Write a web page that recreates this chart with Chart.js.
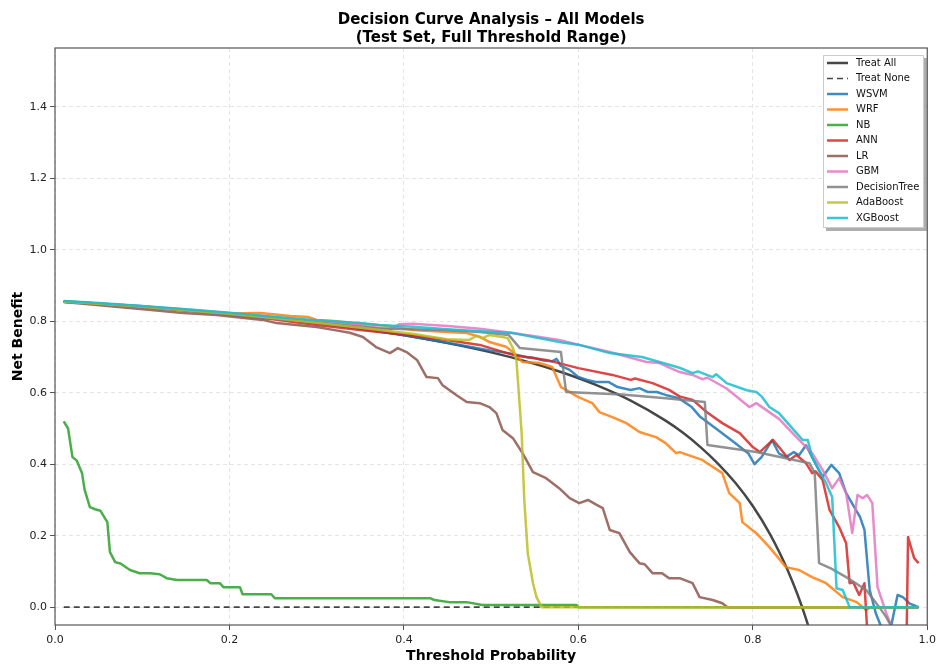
<!DOCTYPE html>
<html>
<head>
<meta charset="utf-8">
<script src="https://cdn.jsdelivr.net/npm/chart.js@4.4.1/dist/chart.umd.min.js"></script>
<style>
  html, body { margin: 0; padding: 0; background: #fff; }
</style>
</head>
<body>
<canvas id="dca" width="940" height="668"></canvas>
<script>
// ---------------------------- Données ----------------------------
const xTicks = [0.0, 0.2, 0.4, 0.6, 0.8, 1.0];
const yTicks = [0.0, 0.2, 0.4, 0.6, 0.8, 1.0, 1.2, 1.4];

const treatAll = [[0.01,0.855],[0.05,0.849],[0.10,0.841],[0.15,0.831],[0.20,0.821],[0.25,0.809],[0.30,0.795],[0.35,0.779],
  [0.40,0.761],[0.45,0.739],[0.50,0.713],[0.54,0.688],[0.58,0.658],[0.62,0.622],[0.66,0.578],[0.70,0.522],[0.72,0.488],
  [0.74,0.448],[0.76,0.402],[0.78,0.348],[0.80,0.283],[0.82,0.203],[0.84,0.103],[0.86,-0.025],[0.88,-0.196],[0.90,-0.435]];
const treatNone = [[0.01,0],[0.99,0]];

const wsvm = [[0.01,0.856],[0.05,0.850],[0.10,0.842],[0.15,0.832],[0.20,0.822],[0.25,0.810],[0.30,0.797],[0.35,0.782],
  [0.40,0.762],[0.45,0.740],[0.48,0.727],[0.50,0.718],[0.52,0.711],[0.54,0.700],[0.55,0.697],[0.56,0.690],[0.57,0.688],
  [0.575,0.695],[0.58,0.675],[0.59,0.664],[0.60,0.644],[0.61,0.636],[0.62,0.630],[0.635,0.630],[0.645,0.616],[0.66,0.608],
  [0.67,0.613],[0.68,0.602],[0.69,0.602],[0.70,0.594],[0.715,0.585],[0.73,0.560],[0.74,0.532],[0.76,0.496],[0.78,0.459],
  [0.795,0.430],[0.802,0.400],[0.81,0.420],[0.822,0.467],[0.83,0.430],[0.838,0.420],[0.847,0.434],[0.853,0.425],
  [0.861,0.453],[0.868,0.420],[0.88,0.364],[0.89,0.398],[0.899,0.375],[0.907,0.319],[0.923,0.252],[0.928,0.216],
  [0.934,0.048],[0.941,-0.017],[0.948,-0.06],[0.958,-0.06],[0.966,0.034],[0.972,0.028],[0.98,0.010],[0.99,0.0]];

const wrf = [[0.01,0.855],[0.05,0.849],[0.10,0.841],[0.15,0.832],[0.20,0.822],[0.235,0.823],[0.27,0.815],[0.29,0.812],
  [0.30,0.804],[0.32,0.801],[0.34,0.795],[0.376,0.788],[0.41,0.776],[0.45,0.770],[0.472,0.767],[0.487,0.757],[0.498,0.742],
  [0.517,0.729],[0.525,0.714],[0.536,0.686],[0.556,0.683],[0.57,0.672],[0.58,0.616],[0.586,0.608],[0.60,0.588],
  [0.616,0.571],[0.624,0.546],[0.639,0.532],[0.655,0.515],[0.67,0.490],[0.689,0.476],[0.70,0.459],[0.712,0.431],
  [0.716,0.434],[0.742,0.412],[0.765,0.375],[0.773,0.319],[0.785,0.291],[0.788,0.238],[0.804,0.207],[0.819,0.168],
  [0.838,0.112],[0.853,0.104],[0.868,0.084],[0.884,0.067],[0.903,0.028],[0.919,0.014],[0.93,-0.008],[0.935,0.0],[0.99,0.0]];

const nb = [[0.01,0.52],[0.015,0.50],[0.02,0.42],[0.025,0.41],[0.031,0.375],[0.034,0.328],[0.04,0.28],[0.046,0.274],
  [0.052,0.27],[0.06,0.238],[0.063,0.154],[0.069,0.126],[0.075,0.122],[0.086,0.104],[0.097,0.095],[0.109,0.095],
  [0.12,0.092],[0.128,0.081],[0.14,0.076],[0.174,0.076],[0.178,0.067],[0.189,0.067],[0.193,0.056],[0.212,0.056],
  [0.215,0.036],[0.248,0.036],[0.252,0.025],[0.43,0.025],[0.435,0.02],[0.452,0.014],[0.472,0.014],[0.49,0.006],
  [0.598,0.006],[0.60,0.0],[0.99,0.0]];

const ann = [[0.01,0.855],[0.05,0.849],[0.10,0.840],[0.15,0.830],[0.20,0.819],[0.25,0.806],[0.30,0.790],[0.35,0.776],
  [0.372,0.770],[0.41,0.760],[0.449,0.748],[0.487,0.734],[0.525,0.706],[0.563,0.692],[0.60,0.669],[0.639,0.650],
  [0.66,0.636],[0.665,0.640],[0.685,0.627],[0.704,0.608],[0.716,0.590],[0.731,0.580],[0.747,0.546],[0.765,0.515],
  [0.785,0.487],[0.80,0.448],[0.808,0.434],[0.823,0.468],[0.83,0.448],[0.842,0.412],[0.85,0.426],[0.861,0.403],
  [0.868,0.375],[0.872,0.380],[0.88,0.356],[0.888,0.272],[0.899,0.224],[0.907,0.179],[0.911,0.067],[0.915,0.070],
  [0.922,0.034],[0.928,0.067],[0.932,-0.10],[0.94,-0.30],[0.975,-0.30],[0.978,0.196],[0.985,0.137],[0.99,0.123]];

const lr = [[0.01,0.854],[0.048,0.846],[0.101,0.834],[0.147,0.823],[0.185,0.818],[0.238,0.804],[0.254,0.795],[0.30,0.784],
  [0.319,0.776],[0.338,0.768],[0.353,0.756],[0.368,0.728],[0.384,0.711],[0.393,0.725],[0.403,0.714],[0.415,0.692],
  [0.426,0.644],[0.439,0.641],[0.444,0.622],[0.46,0.594],[0.472,0.574],[0.487,0.571],[0.498,0.560],[0.506,0.543],
  [0.513,0.496],[0.525,0.473],[0.536,0.431],[0.548,0.378],[0.563,0.361],[0.578,0.333],[0.59,0.305],[0.601,0.291],
  [0.611,0.300],[0.621,0.286],[0.628,0.277],[0.636,0.216],[0.647,0.207],[0.659,0.154],[0.67,0.123],[0.676,0.120],
  [0.685,0.095],[0.696,0.095],[0.704,0.081],[0.716,0.081],[0.731,0.067],[0.739,0.028],[0.754,0.020],[0.765,0.011],
  [0.771,0.0],[0.99,0.0]];

const gbm = [[0.01,0.856],[0.05,0.850],[0.10,0.842],[0.15,0.833],[0.20,0.823],[0.25,0.812],[0.30,0.800],[0.35,0.788],
  [0.385,0.778],[0.395,0.792],[0.41,0.793],[0.45,0.787],[0.487,0.779],[0.525,0.767],[0.578,0.748],[0.601,0.734],
  [0.636,0.714],[0.678,0.686],[0.693,0.683],[0.716,0.658],[0.731,0.650],[0.742,0.638],[0.748,0.642],[0.77,0.612],
  [0.796,0.560],[0.804,0.571],[0.83,0.527],[0.853,0.468],[0.868,0.431],[0.88,0.384],[0.891,0.333],[0.899,0.361],
  [0.907,0.319],[0.914,0.207],[0.92,0.314],[0.926,0.305],[0.931,0.314],[0.937,0.291],[0.943,0.056],[0.953,-0.017],
  [0.96,-0.06],[0.97,-0.10],[0.99,-0.10]];

const decisionTree = [[0.01,0.855],[0.05,0.849],[0.10,0.840],[0.15,0.830],[0.20,0.820],[0.25,0.808],[0.30,0.797],
  [0.35,0.785],[0.372,0.780],[0.41,0.778],[0.45,0.775],[0.487,0.770],[0.52,0.762],[0.533,0.725],[0.58,0.714],
  [0.586,0.602],[0.65,0.595],[0.70,0.585],[0.745,0.574],[0.748,0.454],[0.804,0.434],[0.865,0.403],[0.871,0.375],
  [0.876,0.123],[0.89,0.108],[0.907,0.084],[0.93,0.048],[0.945,0.0],[0.953,-0.028],[0.965,-0.08],[0.99,-0.10]];

const adaBoost = [[0.01,0.855],[0.05,0.849],[0.10,0.841],[0.15,0.831],[0.20,0.821],[0.25,0.809],[0.30,0.796],
  [0.35,0.782],[0.372,0.776],[0.41,0.765],[0.449,0.750],[0.475,0.748],[0.483,0.759],[0.49,0.752],[0.498,0.762],
  [0.513,0.756],[0.519,0.753],[0.525,0.725],[0.529,0.692],[0.535,0.487],[0.538,0.300],[0.542,0.151],[0.548,0.067],
  [0.552,0.028],[0.558,0.0],[0.99,0.0]];

const xgBoost = [[0.01,0.857],[0.05,0.851],[0.10,0.843],[0.15,0.834],[0.20,0.824],[0.25,0.813],[0.30,0.803],[0.35,0.795],
  [0.372,0.790],[0.41,0.785],[0.45,0.778],[0.487,0.772],[0.525,0.767],[0.578,0.742],[0.601,0.734],[0.636,0.711],
  [0.673,0.700],[0.693,0.686],[0.716,0.670],[0.731,0.655],[0.737,0.660],[0.754,0.644],[0.758,0.652],[0.77,0.627],
  [0.793,0.607],[0.804,0.602],[0.81,0.590],[0.819,0.560],[0.83,0.543],[0.857,0.468],[0.863,0.468],[0.868,0.420],
  [0.884,0.347],[0.891,0.308],[0.896,0.053],[0.903,0.048],[0.911,0.0],[0.99,0.0]];

// ---------------------------- Séries ----------------------------
const models = [
  { label: 'WSVM', color: 'rgba(31,119,180,0.85)', pts: wsvm },
  { label: 'WRF', color: 'rgba(255,127,14,0.85)', pts: wrf },
  { label: 'NB', color: 'rgba(44,160,44,0.85)', pts: nb },
  { label: 'ANN', color: 'rgba(214,39,40,0.85)', pts: ann },
  { label: 'LR', color: 'rgba(140,86,75,0.85)', pts: lr },
  { label: 'GBM', color: 'rgba(227,119,194,0.85)', pts: gbm },
  { label: 'DecisionTree', color: 'rgba(127,127,127,0.85)', pts: decisionTree },
  { label: 'AdaBoost', color: 'rgba(188,189,34,0.85)', pts: adaBoost },
  { label: 'XGBoost', color: 'rgba(23,190,207,0.85)', pts: xgBoost }
];

const toXY = pts => pts.map(p => ({ x: p[0], y: p[1] }));

const datasets = [
  { label: 'Treat All', data: toXY(treatAll), borderColor: 'rgba(0,0,0,0.72)', borderWidth: 2.5,
    cubicInterpolationMode: 'monotone' },
  { label: 'Treat None', data: toXY(treatNone), borderColor: 'rgba(0,0,0,0.72)', borderWidth: 1.6,
    borderDash: [6, 4] }
];
models.forEach(m => {
  datasets.push({ label: m.label, data: toXY(m.pts), borderColor: m.color, borderWidth: 2.5 });
});
// matplotlib : la dernière série tracée passe au-dessus
datasets.forEach((ds, i) => {
  ds.order = datasets.length - i;
  ds.pointRadius = 0;
  ds.fill = false;
  ds.tension = ds.tension || 0;
  ds.borderJoinStyle = 'round';
});

// ---------------------------- Plugins (titre, cadre, légende) ----------------------------
const titrePlugin = {
  id: 'titre',
  afterDraw(chart) {
    const { ctx, chartArea } = chart;
    const cx = (chartArea.left + chartArea.right) / 2;
    ctx.save();
    ctx.fillStyle = '#000';
    ctx.font = 'bold 15px "DejaVu Sans"';
    ctx.textAlign = 'center';
    ctx.textBaseline = 'alphabetic';
    ctx.fillText('Decision Curve Analysis \u2013 All Models', cx, 24);
    ctx.fillText('(Test Set, Full Threshold Range)', cx, 42);
    ctx.restore();
  }
};

const cadrePlugin = {
  id: 'cadre',
  afterDatasetsDraw(chart) {
    const { ctx, chartArea: a } = chart;
    ctx.save();
    ctx.strokeStyle = '#555';
    ctx.lineWidth = 1.2;
    ctx.strokeRect(a.left, a.top, a.right - a.left, a.bottom - a.top);
    ctx.restore();
  }
};

const legendePlugin = {
  id: 'legende',
  afterDraw(chart) {
    const { ctx } = chart;
    const x = 823, y = 55, w = 101, h = 173;
    ctx.save();
    // ombre
    ctx.fillStyle = 'rgba(120,120,120,0.6)';
    ctx.fillRect(x + 3, y + 3, w, h);
    ctx.fillStyle = '#fff';
    ctx.fillRect(x, y, w, h);
    ctx.strokeStyle = '#ccc';
    ctx.lineWidth = 1;
    ctx.strokeRect(x + 0.5, y + 0.5, w - 1, h - 1);
    ctx.font = '10px "DejaVu Sans"';
    ctx.textBaseline = 'middle';
    ctx.textAlign = 'left';
    chart.data.datasets.forEach((ds, i) => {
      const ly = 63 + i * 15.5;
      ctx.strokeStyle = ds.borderColor;
      ctx.lineWidth = ds.borderWidth;
      ctx.setLineDash(ds.borderDash || []);
      ctx.beginPath();
      ctx.moveTo(827, ly);
      ctx.lineTo(848, ly);
      ctx.stroke();
      ctx.setLineDash([]);
      ctx.fillStyle = '#111';
      ctx.fillText(ds.label, 856, ly);
    });
    ctx.restore();
  }
};

// ---------------------------- Graphique ----------------------------
new Chart(document.getElementById('dca'), {
  type: 'line',
  data: { datasets: datasets },
  plugins: [titrePlugin, cadrePlugin, legendePlugin],
  options: {
    responsive: false,
    animation: false,
    layout: { padding: { top: 48, right: 12, left: 0, bottom: 0 } },
    plugins: { legend: { display: false }, title: { display: false }, tooltip: { enabled: false } },
    scales: {
      x: {
        type: 'linear', min: 0, max: 1,
        afterFit: s => { s.height = 43; },
        afterBuildTicks: s => { s.ticks = xTicks.map(v => ({ value: v })); },
        grid: { color: 'rgba(0,0,0,0.10)', tickColor: '#555', tickLength: 5, tickBorderDash: [] },
        border: { display: false, dash: [4, 3] },
        ticks: { color: '#222', padding: 4, maxRotation: 0, font: { family: 'DejaVu Sans', size: 11 },
          callback: v => v.toFixed(1) },
        title: { display: true, text: 'Threshold Probability', color: '#000',
          font: { family: 'DejaVu Sans', size: 14, weight: 'bold' }, padding: { top: 0, bottom: 3 } }
      },
      y: {
        type: 'linear', min: -0.05, max: 1.565,
        afterFit: s => { s.width = 55; },
        afterBuildTicks: s => { s.ticks = yTicks.map(v => ({ value: v })); },
        grid: { color: 'rgba(0,0,0,0.10)', tickColor: '#555', tickLength: 5, tickBorderDash: [] },
        border: { display: false, dash: [4, 3] },
        ticks: { color: '#222', padding: 3, font: { family: 'DejaVu Sans', size: 11 },
          callback: v => v.toFixed(1) },
        title: { display: true, text: 'Net Benefit', color: '#000',
          font: { family: 'DejaVu Sans', size: 14, weight: 'bold' }, padding: { top: 10, bottom: 0 } }
      }
    }
  }
});
</script>
</body>
</html>
